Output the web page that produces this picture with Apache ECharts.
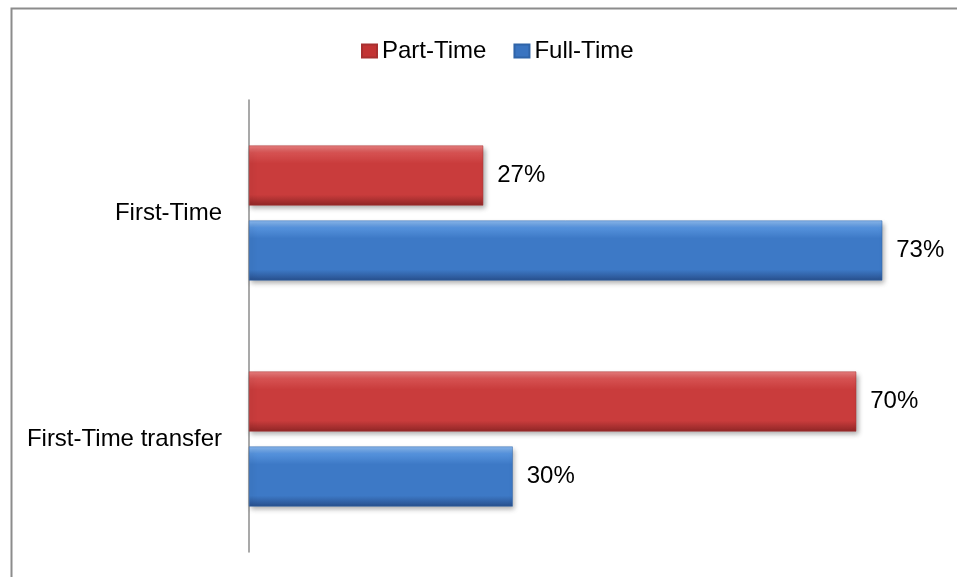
<!DOCTYPE html>
<html>
<head>
<meta charset="utf-8">
<script src="https://cdn.jsdelivr.net/npm/echarts@6/dist/echarts.min.js"></script>
<style>
html,body{margin:0;padding:0;background:#fff;}
#chart{width:957px;height:577px;}
</style>
</head>
<body>
<div id="chart"></div>
<script>
var categories = ["First-Time", "First-Time transfer"];
var partTime = [27, 70];
var fullTime = [73, 30.4];
var seriesNames = ["Part-Time", "Full-Time"];

var FONT = '"Liberation Sans Narrow", "Arial Narrow", "Liberation Sans", Arial, sans-serif';
var FS = 24;

function grad(top, light, mid, dark) {
  return new echarts.graphic.LinearGradient(0, 0, 0, 1, [
    {offset: 0, color: top},
    {offset: 0.12, color: light},
    {offset: 0.3, color: mid},
    {offset: 0.82, color: mid},
    {offset: 1, color: dark}
  ]);
}
var redFill = grad('#e98080', '#d65252', '#c93c3c', '#8f2626');
var blueFill = grad('#8cb9ee', '#5592dc', '#3d79c6', '#284f8c');

var chart = echarts.init(document.getElementById('chart'), null, {renderer: 'canvas'});
chart.setOption({
  backgroundColor: '#fff',
  animation: false,
  graphic: [{
    type: 'rect', left: 9, top: 6, silent: true,
    shape: {x: 0, y: 0, width: 1000, height: 1000},
    style: {fill: 'none', stroke: '#8c8c8c', lineWidth: 2}
  }],
  legend: {
    left: 356, top: 34,
    itemWidth: 15, itemHeight: 13, itemGap: 27,
    textStyle: {fontFamily: FONT, fontSize: FS, color: '#000'},
    data: [
      {name: seriesNames[0], icon: 'rect', itemStyle: {color: '#c23434'}},
      {name: seriesNames[1], icon: 'rect', itemStyle: {color: '#3a74c0'}}
    ]
  },
  grid: {left: 249, top: 100, right: 14, bottom: 25, containLabel: false, outerBoundsMode: 'none'},
  xAxis: {
    type: 'value', min: 0, max: 80, show: false
  },
  yAxis: {
    type: 'category', inverse: true, data: categories,
    axisLine: {show: true, lineStyle: {color: '#8c8c8c', width: 1.5}},
    axisTick: {show: false},
    axisLabel: {fontFamily: FONT, fontSize: FS, color: '#000', margin: 27}
  },
  series: [
    {
      name: seriesNames[0], type: 'bar', data: partTime,
      barWidth: 60, barGap: '25%',
      itemStyle: {color: redFill, borderColor: '#a83030', borderWidth: 0.5,
        shadowColor: 'rgba(0,0,0,0.35)', shadowBlur: 5, shadowOffsetX: 2, shadowOffsetY: 3},
      label: {show: true, position: 'right', distance: 14, fontFamily: FONT, fontSize: FS, color: '#000',
        formatter: function (p) { return Math.round(p.value) + '%'; }}
    },
    {
      name: seriesNames[1], type: 'bar', data: fullTime,
      barWidth: 60,
      itemStyle: {color: blueFill, borderColor: '#2f64a8', borderWidth: 0.5,
        shadowColor: 'rgba(0,0,0,0.35)', shadowBlur: 5, shadowOffsetX: 2, shadowOffsetY: 3},
      label: {show: true, position: 'right', distance: 14, fontFamily: FONT, fontSize: FS, color: '#000',
        formatter: function (p) { return Math.round(p.value) + '%'; }}
    }
  ]
});
</script>
</body>
</html>
